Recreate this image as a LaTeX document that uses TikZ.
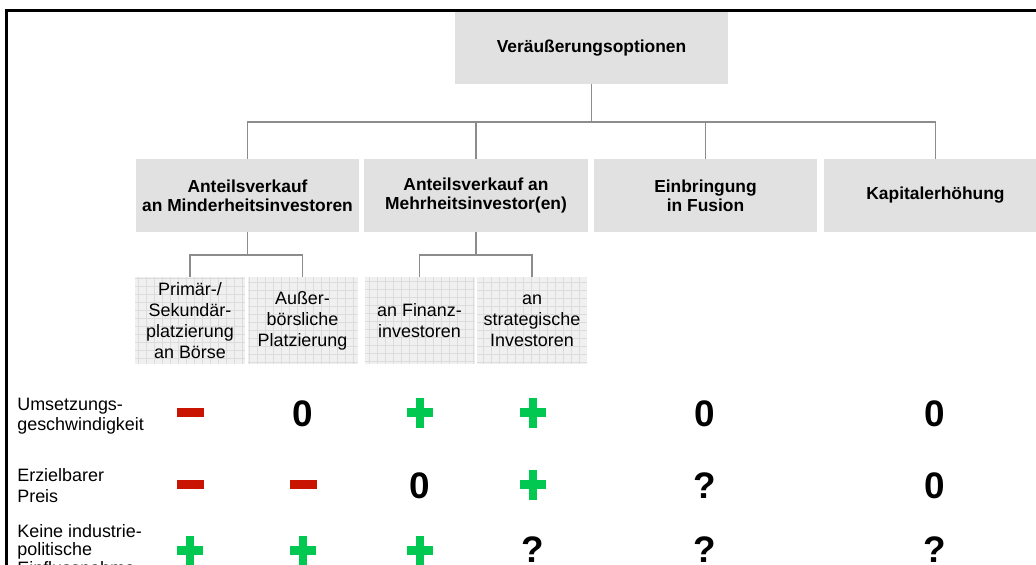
\documentclass[tikz,border=0pt]{standalone}
\usepackage{fontspec}
\setmainfont{Liberation Sans}
\usepackage{xcolor}
\usepackage{tikz}
\definecolor{boxgrey}{HTML}{E1E1E1}
\definecolor{gridbg}{HTML}{F0F0F0}
\definecolor{gridline}{HTML}{DCDCDC}
\definecolor{lineg}{HTML}{8C8C8C}
\definecolor{redM}{HTML}{C81400}
\definecolor{greenP}{HTML}{00C850}

\begin{document}
\begin{tikzpicture}[
    optbox/.style={fill=boxgrey, align=center, inner sep=0, minimum width=4.47cm, minimum height=1.46cm, font=\fontsize{9.9}{10.9}\selectfont\bfseries},
    subbox/.style={fill=gridbg, align=center, inner sep=0, minimum width=2.2cm, minimum height=1.74cm, font=\fontsize{10.2}{12}\selectfont,
        path picture={\draw[gridline, line width=0.3pt, step=0.16cm] (path picture bounding box.south west) grid (path picture bounding box.north east);}},
    crit/.style={anchor=west, align=left, inner sep=0, font=\fontsize{10.2}{11.6}\selectfont},
    score/.style={inner sep=0, font=\fontsize{21}{24}\selectfont\bfseries},
    minusbar/.style={fill=redM, inner sep=0, minimum width=0.54cm, minimum height=0.18cm},
    plusmark/.style={inner sep=0, minimum width=0.52cm, minimum height=0.6cm,
        path picture={\fill[greenP] ([shift={(-0.26,-0.09)}]path picture bounding box.center) rectangle ++(0.52,0.18);
                      \fill[greenP] ([shift={(-0.08,-0.3)}]path picture bounding box.center) rectangle ++(0.16,0.6);}},
    conn/.style={draw=lineg, line width=0.6pt}
]
\clip (0,0) rectangle (20.72,-11.3);
% frame
\draw[line width=1.7pt] (0.13,-11.5) -- (0.13,-0.21) -- (21,-0.21);

% ---- TOP ----
\node[optbox, minimum width=5.46cm, minimum height=1.44cm] (top) at (11.83,-0.96) {Veräußerungsoptionen};

% ---- OPTIONS ----
\node[optbox] (anteilMin) at (4.95,-3.91) {Anteilsverkauf\\an Minderheitsinvestoren};
\node[optbox] (anteilMaj) at (9.52,-3.91) {Anteilsverkauf an\\Mehrheitsinvestor(en)};
\node[optbox] (fusion) at (14.11,-3.91) {Einbringung\\in Fusion};
\node[optbox] (kapital) at (18.71,-3.91) {Kapitalerhöhung};
\coordinate (bus) at (11.83,-2.44);
\draw[conn] (top) -- (bus);
\draw[conn] (bus) -| (anteilMin); \draw[conn] (bus) -| (anteilMaj); \draw[conn] (bus) -| (fusion); \draw[conn] (bus) -| (kapital);

% ---- SUB-OPTIONS ----
\node[subbox] (boerse) at (3.80,-6.41) {Primär-/\\Sekundär-\\platzierung\\an Börse};
\node[subbox] (ausser) at (6.05,-6.41) {Außer-\\börsliche\\Platzierung};
\node[subbox] (finanz) at (8.39,-6.41) {an Finanz-\\investoren};
\node[subbox] (strat) at (10.64,-6.41) {an\\strategische\\Investoren};
\coordinate (busMin) at (4.95,-5.10);
\coordinate (busMaj) at (9.52,-5.10);
\draw[conn] (anteilMin) -- (busMin); \draw[conn] (busMin) -| (boerse); \draw[conn] (busMin) -| (ausser);
\draw[conn] (anteilMaj) -- (busMaj); \draw[conn] (busMaj) -| (finanz); \draw[conn] (busMaj) -| (strat);

% ---- CRITERIA ----
\node[crit] (speed) at (0.34,-8.32) {Umsetzungs-\\geschwindigkeit};
\node[crit] (price) at (0.34,-9.71) {Erzielbarer\\Preis};
\node[crit, font=\fontsize{10.2}{10.6}\selectfont] (infl) at (0.34,-10.99) {Keine industrie-\\politische\\Einflussnahme};

% row 1
\node[minusbar] (r1c1) at (3.81,-8.25) {};
\node[score] (r1c2) at (6.06,-8.27) {0};
\node[plusmark] (r1c3) at (8.40,-8.26) {};
\node[plusmark] (r1c4) at (10.66,-8.26) {};
\node[score] (r1c5) at (14.10,-8.27) {0};
\node[score] (r1c6) at (18.70,-8.27) {0};

% row 2
\node[minusbar] (r2c1) at (3.81,-9.69) {};
\node[minusbar] (r2c2) at (6.06,-9.69) {};
\node[score] (r2c3) at (8.40,-9.71) {0};
\node[plusmark] (r2c4) at (10.66,-9.70) {};
\node[score] (r2c5) at (14.10,-9.71) {?};
\node[score] (r2c6) at (18.70,-9.71) {0};

% row 3
\node[plusmark] (r3c1) at (3.80,-11.02) {};
\node[plusmark] (r3c2) at (6.06,-11.02) {};
\node[plusmark] (r3c3) at (8.40,-11.02) {};
\node[score] (r3c4) at (10.66,-11.0) {?};
\node[score] (r3c5) at (14.10,-11.0) {?};
\node[score] (r3c6) at (18.70,-11.0) {?};
\end{tikzpicture}
\end{document}
